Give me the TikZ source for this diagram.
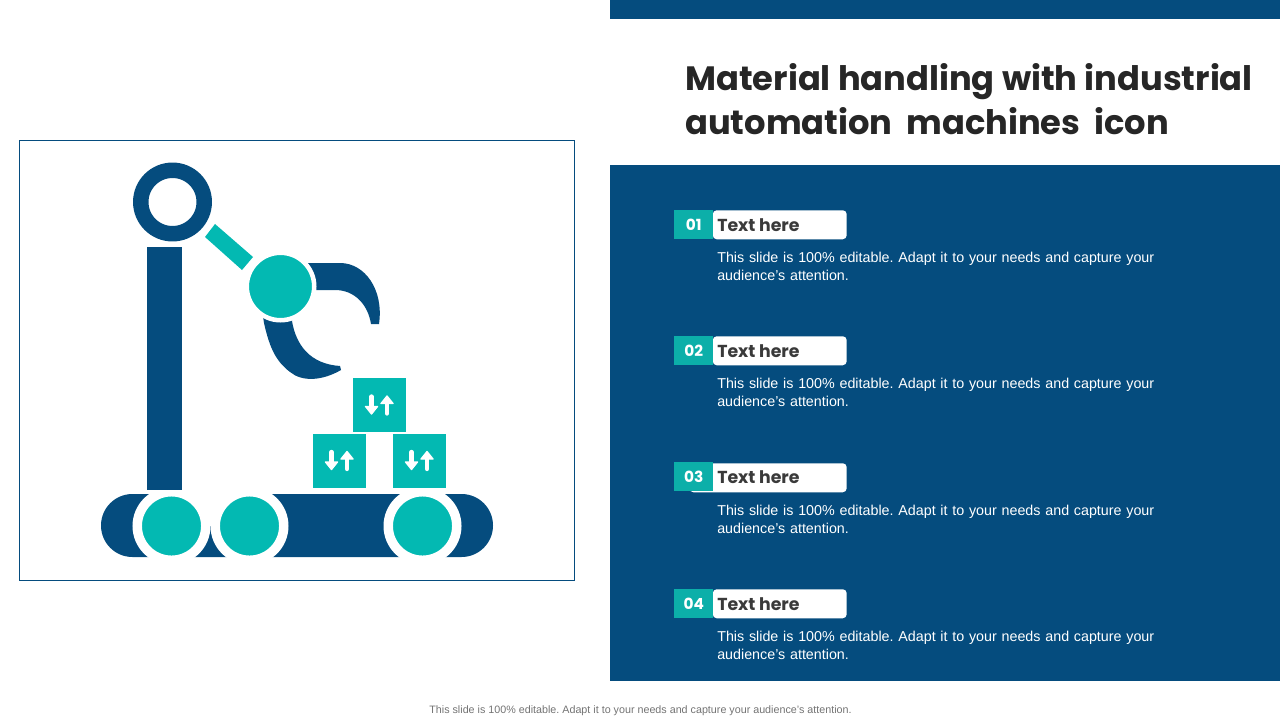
\documentclass[tikz,border=0pt]{standalone}
\usepackage{fontspec}
\setmainfont{Liberation Sans}
\newfontfamily\headfont{Poppins}
\usetikzlibrary{positioning}
\definecolor{navy}{HTML}{054C7E}
\definecolor{teal}{HTML}{03B9B2}
\definecolor{tagteal}{HTML}{0CAFA9}
\definecolor{inkgray}{HTML}{3A3A3A}
\tikzset{
	wheel/.style={circle,fill=teal,draw=white,line width=7.1pt,minimum size=51.4pt,inner sep=0pt},
	crate/.style={fill=teal,minimum width=39.75pt,minimum height=40.5pt,inner sep=0pt},
	tagbox/.style={fill=tagteal,text=white,minimum width=29.25pt,minimum height=21.75pt,inner sep=0pt,font=\headfont\bfseries\fontsize{11.5}{14}\selectfont},
	headbox/.style={fill=white,rounded corners=3pt,minimum width=100.5pt,minimum height=21.75pt,inner sep=0pt},
	headtext/.style={anchor=west,text=inkgray,inner sep=0pt,font=\headfont\bfseries\fontsize{13}{16}\selectfont},
	bodytext/.style={text=white,inner sep=0pt,text width=345pt,align=left,font=\fontsize{10.72}{13.5}\selectfont\frenchspacing},
	updown/.pic={
		\draw[white,line width=3.2pt,line cap=round] (-8,-8.5) -- (-8,4);
		\fill[white,draw=white,line width=1pt,line join=round] (-14,1.5) -- (-2,1.5) -- (-8,9) -- cycle;
		\draw[white,line width=3.2pt,line cap=round] (7.5,8.5) -- (7.5,-4);
		\fill[white,draw=white,line width=1pt,line join=round] (1.5,-1.5) -- (13.5,-1.5) -- (7.5,-9) -- cycle;
	}
}
\begin{document}
\begin{tikzpicture}[x=0.75pt,y=-0.75pt]
	\useasboundingbox (0,0) rectangle (1280,720);
	% right side
	\fill[navy] (610,0) rectangle (1280,19);
	\fill[navy] (610,165) rectangle (1280,681);
	\node[anchor=north west,inner sep=0pt,text=black!85,align=left,font=\headfont\bfseries\fontsize{25.3}{33}\selectfont] (title) at (685,63.5) {Material handling with industrial\\automation\hspace{5pt} machines\hspace{5pt} icon};
	% row 1
	\node[headbox,anchor=north east] (h1) at (847,210) {};
	\node[tagbox,anchor=north west] (t1) at (674,210) {01};
	\node[headtext] (l1) at (717,225) {Text here};
	\node[bodytext,anchor=north west] (b1) at (717,251.5) {This slide is 100\% editable. Adapt it to your needs and capture your audience's attention.};
	% row 2
	\node[headbox,anchor=north east] (h2) at (847,336) {};
	\node[tagbox,anchor=north west] (t2) at (674,336) {02};
	\node[headtext] (l2) at (717,351) {Text here};
	\node[bodytext,anchor=north west] (b2) at (717,377.5) {This slide is 100\% editable. Adapt it to your needs and capture your audience's attention.};
	% row 3
	\node[headbox,anchor=north east,minimum width=118pt] (h3) at (847,463) {};
	\node[tagbox,anchor=north west] (t3) at (674,462) {03};
	\node[headtext] (l3) at (717,477) {Text here};
	\node[bodytext,anchor=north west] (b3) at (717,504.5) {This slide is 100\% editable. Adapt it to your needs and capture your audience's attention.};
	% row 4
	\node[headbox,anchor=north east] (h4) at (847,589) {};
	\node[tagbox,anchor=north west] (t4) at (674,589) {04};
	\node[headtext] (l4) at (717,604) {Text here};
	\node[bodytext,anchor=north west] (b4) at (717,630.5) {This slide is 100\% editable. Adapt it to your needs and capture your audience's attention.};
	% footer
	\node[text=black!55,inner sep=0pt,font=\fontsize{8.05}{9}\selectfont\frenchspacing] (foot) at (640.5,710.5) {This slide is 100\% editable. Adapt it to your needs and capture your audience's attention.};
	% frame
	\draw[navy,line width=0.75pt] (19.5,140.5) rectangle (574.5,580.5);
	% conveyor
	\fill[navy,rounded corners=23.6pt] (101,494) rectangle (493,557);
	\fill[white] (171.5,490) rectangle (249.5,526);
	\node[wheel] (w1) at (171.5,526) {};
	\node[wheel] (w2) at (249.5,526) {};
	\node[wheel] (w3) at (422.5,526) {};
	\fill[navy] (147,247) rectangle (182,490);
	% arm
	\node[circle,draw=navy,fill=white,line width=11.6pt,minimum size=47.6pt,inner sep=0pt] (ring) at (172.5,202) {};
	\fill[teal] (205,237) -- (215,224) -- (253,257) -- (242,270) -- cycle;
	% claws
	\fill[navy] (300,263) -- (340,263) .. controls (365,263) and (384,290) .. (379,324) -- (371,324) .. controls (368,305) and (355,290) .. (335,290) -- (300,290) -- cycle;
	\fill[navy] (262,310) -- (292,310) -- (292,321) .. controls (296,345) and (310,364) .. (340,366) -- (341,370) .. controls (322,381) and (302,382) .. (290,372) .. controls (277,362) and (270,350) .. (264,323) -- cycle;
	\node[circle,fill=teal,draw=white,line width=3.4pt,minimum size=50.6pt,inner sep=0pt] (joint) at (280.5,286.5) {};
	% crates
	\node[crate] (c1) at (379.5,405) {};
	\node[crate] (c2) at (339.5,460.5) {};
	\node[crate] (c3) at (419.5,460.5) {};
	\pic at (c1) {updown};
	\pic at (c2) {updown};
	\pic at (c3) {updown};
\end{tikzpicture}
\end{document}
